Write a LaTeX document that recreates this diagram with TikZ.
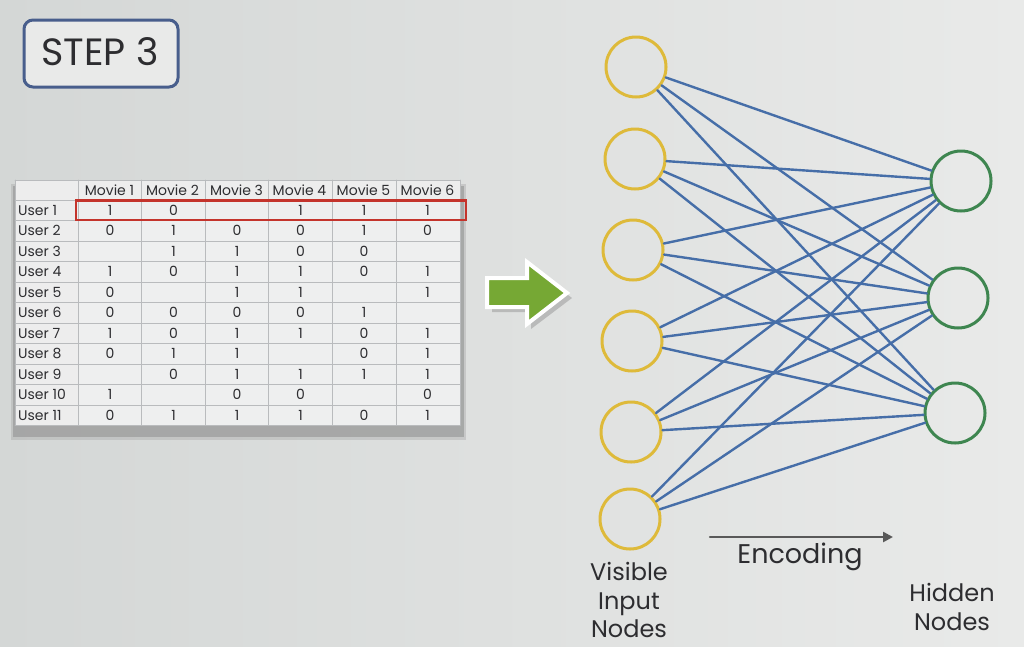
\documentclass[tikz,border=0pt]{standalone}
\usepackage{fontspec}
\setmainfont{Poppins}
\usetikzlibrary{arrows.meta,positioning}
\definecolor{bgleft}{RGB}{212,215,214}
\definecolor{bgright}{RGB}{233,234,233}
\definecolor{inkcol}{RGB}{45,45,48}
\definecolor{edgecol}{RGB}{70,110,168}
\definecolor{viscol}{RGB}{222,186,58}
\definecolor{hidcol}{RGB}{62,134,80}
\definecolor{arrowgreen}{RGB}{118,168,52}
\definecolor{framecol}{RGB}{72,94,140}
\definecolor{gridcol}{RGB}{185,187,189}
\definecolor{cellcol}{RGB}{238,239,239}
\definecolor{redbox}{RGB}{196,52,44}
\tikzset{
  visnode/.style={circle,draw=viscol,line width=3pt,minimum size=60pt,inner sep=0pt},
  hidnode/.style={circle,draw=hidcol,line width=3pt,minimum size=60pt,inner sep=0pt},
  weight/.style={draw=edgecol,line width=2.4pt},
  celltext/.style={font=\fontsize{14}{14}\selectfont,text=inkcol,inner sep=0pt},
  biglabel/.style={font=\fontsize{24}{28.5}\selectfont,text=inkcol,align=center}
}
\begin{document}
\begin{tikzpicture}[x=1pt,y=-1pt,line cap=round,line join=round]
\path[use as bounding box] (0,0) rectangle (1024,646);
\shade[left color=bgleft,right color=bgright] (0,0) rectangle (1024,646);
\draw[framecol,line width=3pt,rounded corners=9pt,fill=bgright] (24,20) rectangle (178,87);
\node[font=\fontsize{38}{38}\selectfont,text=inkcol] (step) at (100,52) {STEP 3};
\fill[black!50,opacity=.55] (13,186) rectangle (464,437);
\fill[black!35,opacity=.4] (11,184) rectangle (466,440);
\fill[cellcol] (15,180) rectangle (460,426);
\fill[black!7] (15,180) rectangle (78,426);
\fill[black!7] (15,180) rectangle (460,200);
\foreach \x in {15,78,141,205,268,332,396,460}
  \draw[gridcol,line width=.7pt] (\x,180) -- (\x,425.5);
\draw[gridcol,line width=.7pt] (15,180) -- (460,180);
\foreach \r in {0,...,11}
  \draw[gridcol,line width=.7pt] (15,200+20.5*\r) -- (460,200+20.5*\r);
\foreach \c [count=\k] in {78,141,205,268,332,396}
  \node[celltext] (movie-\k) at (\c+31.5,190) {Movie \k};
\foreach \vals [count=\r] in {{1,0,,1,1,1},{0,1,0,0,1,0},{,1,1,0,0,},{1,0,1,1,0,1},{0,,1,1,,1},{0,0,0,0,1,},{1,0,1,1,0,1},{0,1,1,,0,1},{,0,1,1,1,1},{1,,0,0,,0},{0,1,1,1,0,1}}{
  \node[celltext,anchor=west] (user-\r) at (18,189.75+20.5*\r) {User \r};
  \foreach \v [count=\c] in \vals
    \node[celltext] (cell-\r-\c) at (46.5+63.5*\c,189.75+20.5*\r) {\v};
}
\draw[redbox,line width=2.4pt,line cap=butt,line join=miter] (76,200.5) rectangle (466,220);
\fill[black!45,opacity=.45] (492,284) -- (531,284) -- (531,267) -- (572,298) -- (531,329) -- (531,312) -- (492,312) -- cycle;
\draw[white,line width=4pt,line join=miter,fill=arrowgreen] (487,278) -- (527,278) -- (527,262) -- (567,293) -- (527,324) -- (527,307) -- (487,307) -- cycle;
\node[visnode] (v1) at (636,67) {};
\node[visnode] (v2) at (635,159) {};
\node[visnode] (v3) at (633,250) {};
\node[visnode] (v4) at (632,341) {};
\node[visnode] (v5) at (631,432) {};
\node[visnode] (v6) at (630,519) {};
\node[hidnode] (h1) at (961,181) {};
\node[hidnode] (h2) at (958,298) {};
\node[hidnode] (h3) at (955,413) {};
\foreach \i in {1,...,6}
  \foreach \j in {1,2,3}
    \draw[weight] (v\i) -- (h\j);
\node[biglabel] (vislabel) at (629,600) {Visible\\Input\\Nodes};
\node[biglabel] (hidlabel) at (952,607) {Hidden\\Nodes};
\node[font=\fontsize{27}{27}\selectfont,text=inkcol] (enclabel) at (800,557) {Encoding};
\coordinate (enc-a) at (710,537);
\coordinate (enc-b) at (893,537);
\draw[black!65,line width=2.4pt,-{Triangle[length=10pt,width=10pt]}] (enc-a) -- (enc-b);
\end{tikzpicture}
\end{document}
